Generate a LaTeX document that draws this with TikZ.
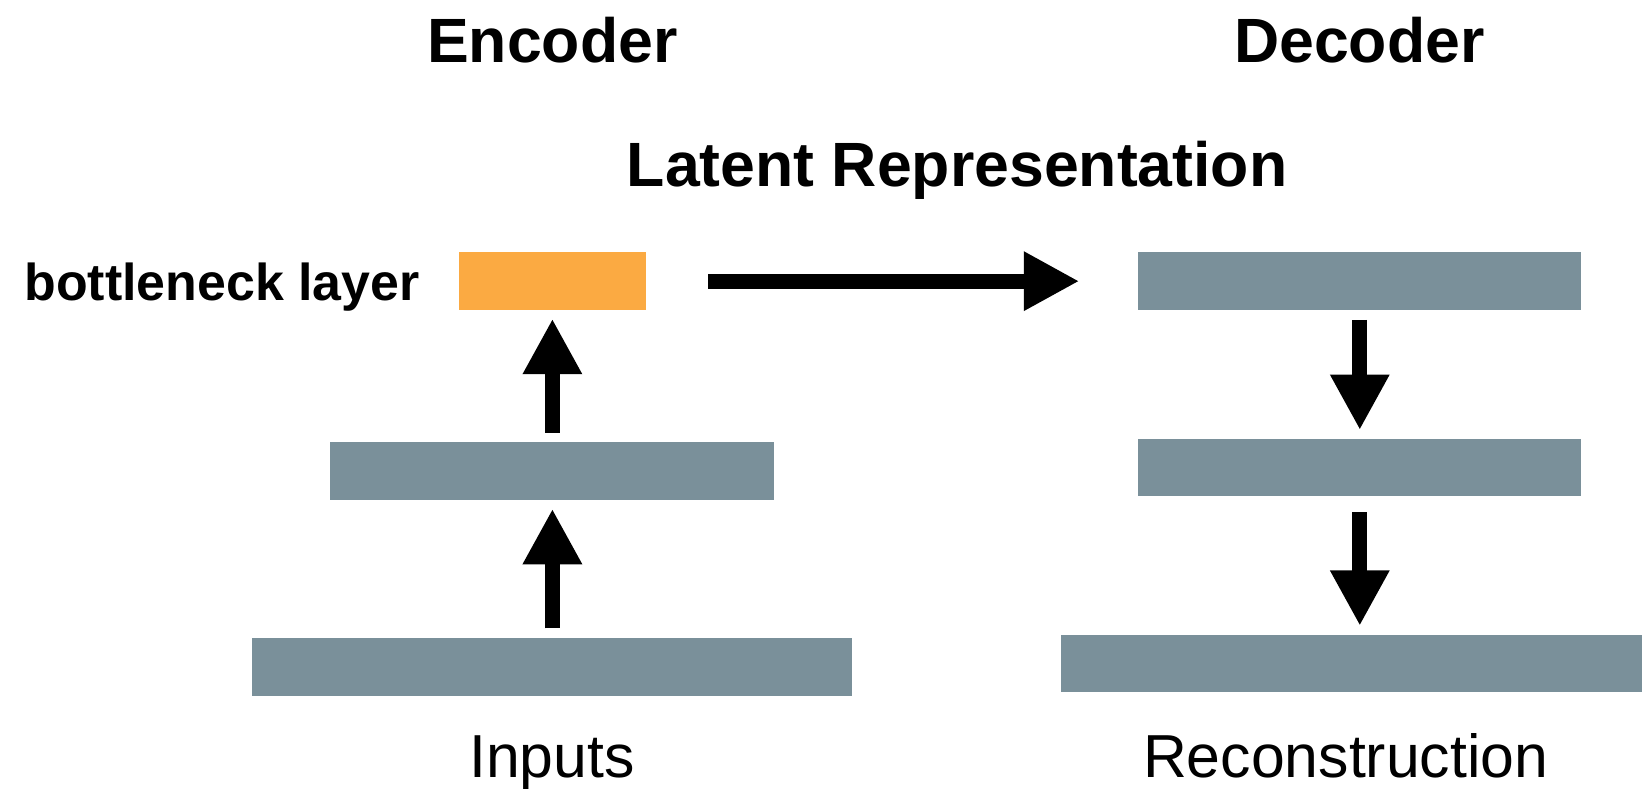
\documentclass[tikz,border=0pt]{standalone}
\usepackage{fontspec}
\setmainfont{Liberation Sans}
\usetikzlibrary{arrows.meta}

\definecolor{barcol}{RGB}{122,144,154}
\definecolor{bottlecol}{RGB}{251,170,66}

\tikzset{
	bar/.style={fill=barcol, minimum height=1.1cm, inner sep=0pt},
	flow/.style={line width=0.28cm, -{Triangle[length=1.06cm, width=1.06cm]}, shorten <=0.18cm, shorten >=0.16cm},
	head/.style={font=\fontsize{34}{40}\selectfont\bfseries, anchor=base},
	caption/.style={font=\fontsize{33}{40}\selectfont, anchor=base}
}

\begin{document}
\begin{tikzpicture}
	\useasboundingbox (0,0) rectangle (31.36,15.06);
	% encoder side
	\node[bar, minimum width=11.46cm] (in) at (10.55,2.32) {};
	\node[bar, minimum width=8.48cm] (enc) at (10.55,6.06) {};
	\node[bar, fill=bottlecol, minimum width=3.58cm] (code) at (10.55,9.69) {};
	% decoder side
	\node[bar, minimum width=8.46cm] (dec) at (25.97,9.69) {};
	\node[bar, minimum width=8.46cm] (dec2) at (25.97,6.13) {};
	\node[bar, minimum width=11.1cm] (out) at (25.81,2.39) {};
	% arrows
	\draw[flow] (in.north) -- (enc.south);
	\draw[flow] (enc.north) -- (code.south);
	\draw[flow, shorten <=1.18cm, shorten >=1.12cm] (code.east) -- (dec.west);
	\draw[flow] (dec.south) -- (dec2.north);
	\draw[flow, shorten <=0.3cm] (dec2.south) -- (out.north -| dec2.south);
	% labels
	\node[head] (enctitle) at (10.55,13.86) {Encoder};
	\node[head] (dectitle) at (25.96,13.86) {Decoder};
	\node[head] (latent) at (18.28,11.5) {Latent Representation};
	\node[head, anchor=base east, font=\fontsize{28.2}{34}\selectfont\bfseries] (bottle) at (8.14,9.32) {bottleneck layer};
	\node[caption] (inlabel) at (10.54,0.22) {Inputs};
	\node[caption] (outlabel) at (25.7,0.22) {Reconstruction};
\end{tikzpicture}
\end{document}
